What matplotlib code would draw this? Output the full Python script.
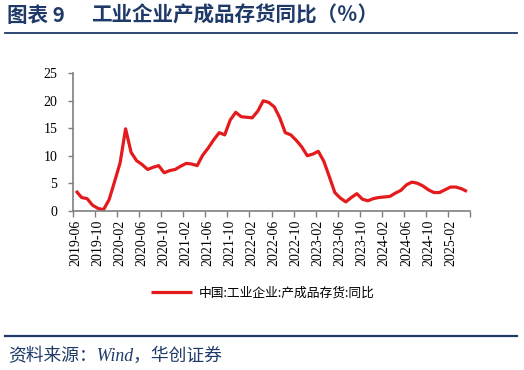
import numpy as np
import pandas as pd
import matplotlib
matplotlib.use("Agg")
import matplotlib.pyplot as plt
from matplotlib.lines import Line2D
from matplotlib.font_manager import FontProperties

# ---------------- data ----------------
start_month = "2019-06"
values = [3.6, 2.4, 2.2, 1.0, 0.4, 0.2, 2.0, 5.3, 8.7, 14.9,
          10.6, 9.1, 8.4, 7.5, 7.9, 8.2, 6.9, 7.3, 7.5, 8.1,
          8.6, 8.5, 8.2, 10.1, 11.4, 12.9, 14.2, 13.8, 16.5, 17.9,
          17.1, 17.0, 16.9, 18.1, 20.0, 19.7, 18.9, 16.9, 14.2, 13.8,
          12.8, 11.6, 10.0, 10.3, 10.8, 9.0, 6.2, 3.3, 2.3, 1.6,
          2.4, 3.1, 2.1, 1.8, 2.2, 2.4, 2.5, 2.6, 3.2, 3.7,
          4.7, 5.2, 5.0, 4.5, 3.8, 3.3, 3.3, 3.8, 4.3, 4.3,
          4.0, 3.5]
months = [str(p) for p in pd.period_range(start_month, periods=len(values), freq="M")]
yticks = [0, 5, 10, 15, 20, 25]
series_name = "中国:工业企业:产成品存货:同比"
title_a = "图表 9"
title_b = "工业企业产成品存货同比（％）"
source = "资料来源：Wind，华创证券"

# ---------------- style ----------------
W, H = 524, 370
navy = "#1F3A68"
red = "#E41A1C"
axis_grey = "#7F7F7F"
serif = ["Liberation Serif", "DejaVu Serif"]
cjk = ["Noto Sans CJK SC", "DejaVu Sans"]

fig = plt.figure(figsize=(W / 100, H / 100), dpi=100)
ax = fig.add_axes([73.3 / W, 1 - 210.7 / H, 396.4 / W, 137.4 / H])

x = np.arange(len(values))
line, = ax.plot(x, values, color=red, lw=2.3, solid_joinstyle="round",
                solid_capstyle="butt")

ax.set_xlim(-0.5, len(values) - 0.5)
ax.set_ylim(0, 25)
ax.set_yticks(yticks)
ax.set_yticklabels([str(v) for v in yticks], fontfamily=serif, fontsize=10)

# tick marks at category boundaries, labels at category centres
ax.set_xticks(np.arange(-0.5, len(values), 4))
ax.set_xticklabels([])
ax.set_xticks(np.arange(0, len(values), 4), minor=True)
ax.set_xticklabels(months[::4], minor=True, rotation=90, fontfamily=serif,
                   fontsize=10, va="top", ha="center")
ax.tick_params(axis="x", which="major", length=4, width=1, color=axis_grey,
               direction="out")
ax.tick_params(axis="x", which="minor", length=0, pad=6.5)
ax.tick_params(axis="y", length=3.5, width=1, color=axis_grey, direction="out",
               pad=8)

for s in ["top", "right"]:
    ax.spines[s].set_visible(False)
for s in ["left", "bottom"]:
    ax.spines[s].set_color(axis_grey)
    ax.spines[s].set_linewidth(1.2)

# legend
fig.legend(handles=[line], labels=[series_name], loc="center",
           bbox_to_anchor=(263 / W, 1 - 293 / H), frameon=False,
           prop=FontProperties(family=cjk, size=9.2),
           handlelength=3.2, handletextpad=0.5)

# title
fig.text(7 / W, 1 - 15 / H, title_a, ha="left", va="center", fontsize=14.8,
         fontweight="bold", color=navy, family=cjk)
fig.text(91 / W, 1 - 15 / H, title_b, ha="left", va="center", fontsize=14.8,
         fontweight="bold", color=navy, family=cjk)
fig.add_artist(Line2D([5 / W, 517 / W], [1 - 33 / H] * 2,
                      transform=fig.transFigure, color=navy, lw=1.3))

# source
fig.add_artist(Line2D([5 / W, 517 / W], [1 - 336 / H] * 2,
                      transform=fig.transFigure, color=navy, lw=1.6))
fig.text(8 / W, 1 - 356 / H, source, ha="left", va="center", fontsize=12.8,
         style="italic", color=navy,
         family=["Liberation Serif", "Noto Sans CJK SC"])

fig.savefig("out.png", dpi=100)
